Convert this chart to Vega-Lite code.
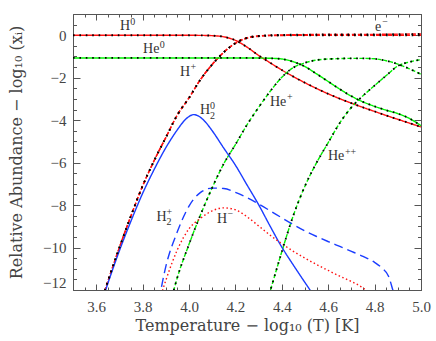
{
  "$schema": "https://vega.github.io/schema/vega-lite/v6.json",
  "width": 348,
  "height": 276,
  "autosize": {"type": "none"},
  "padding": {"left": 73, "top": 14, "right": 15, "bottom": 51},
  "background": "white",
  "config": {
    "view": {"stroke": "#555555", "strokeWidth": 1},
    "axis": {
      "grid": false,
      "domain": false,
      "tickColor": "#555555",
      "tickWidth": 1,
      "labelColor": "#444444",
      "titleColor": "#444444",
      "labelFont": "Liberation Serif",
      "labelFontSize": 15,
      "titleFont": "DejaVu Serif",
      "titleFontSize": 16,
      "titleFontWeight": "normal"
    }
  },
  "datasets": {
    "curves": [
      {"sp": "H0", "T": 3.50, "v": 0}, {"sp": "H0", "T": 3.60, "v": 0}, {"sp": "H0", "T": 3.70, "v": 0}, {"sp": "H0", "T": 3.80, "v": 0}, {"sp": "H0", "T": 3.90, "v": 0}, {"sp": "H0", "T": 4.00, "v": -0.002}, {"sp": "H0", "T": 4.05, "v": -0.006}, {"sp": "H0", "T": 4.10, "v": -0.02}, {"sp": "H0", "T": 4.15, "v": -0.075}, {"sp": "H0", "T": 4.20, "v": -0.24}, {"sp": "H0", "T": 4.25, "v": -0.56}, {"sp": "H0", "T": 4.30, "v": -0.95}, {"sp": "H0", "T": 4.35, "v": -1.30}, {"sp": "H0", "T": 4.40, "v": -1.64}, {"sp": "H0", "T": 4.45, "v": -1.95}, {"sp": "H0", "T": 4.50, "v": -2.24}, {"sp": "H0", "T": 4.55, "v": -2.51}, {"sp": "H0", "T": 4.60, "v": -2.76}, {"sp": "H0", "T": 4.65, "v": -2.99}, {"sp": "H0", "T": 4.70, "v": -3.20}, {"sp": "H0", "T": 4.75, "v": -3.40}, {"sp": "H0", "T": 4.80, "v": -3.59}, {"sp": "H0", "T": 4.85, "v": -3.78}, {"sp": "H0", "T": 4.90, "v": -3.96}, {"sp": "H0", "T": 4.95, "v": -4.14}, {"sp": "H0", "T": 5.00, "v": -4.32},

      {"sp": "H+", "T": 3.62, "v": -12.6}, {"sp": "H+", "T": 3.65, "v": -11.6}, {"sp": "H+", "T": 3.70, "v": -10.0}, {"sp": "H+", "T": 3.75, "v": -8.5}, {"sp": "H+", "T": 3.80, "v": -7.1}, {"sp": "H+", "T": 3.85, "v": -5.9}, {"sp": "H+", "T": 3.90, "v": -4.82}, {"sp": "H+", "T": 3.95, "v": -3.75}, {"sp": "H+", "T": 4.00, "v": -2.95}, {"sp": "H+", "T": 4.05, "v": -2.08}, {"sp": "H+", "T": 4.10, "v": -1.38}, {"sp": "H+", "T": 4.15, "v": -0.80}, {"sp": "H+", "T": 4.20, "v": -0.38}, {"sp": "H+", "T": 4.25, "v": -0.14}, {"sp": "H+", "T": 4.30, "v": -0.05}, {"sp": "H+", "T": 4.35, "v": -0.02}, {"sp": "H+", "T": 4.40, "v": -0.01}, {"sp": "H+", "T": 4.50, "v": -0.004}, {"sp": "H+", "T": 4.60, "v": -0.002}, {"sp": "H+", "T": 4.80, "v": -0.001}, {"sp": "H+", "T": 5.00, "v": 0},

      {"sp": "e-", "T": 3.62, "v": -12.6}, {"sp": "e-", "T": 3.65, "v": -11.6}, {"sp": "e-", "T": 3.70, "v": -10.0}, {"sp": "e-", "T": 3.75, "v": -8.5}, {"sp": "e-", "T": 3.80, "v": -7.1}, {"sp": "e-", "T": 3.85, "v": -5.9}, {"sp": "e-", "T": 3.90, "v": -4.82}, {"sp": "e-", "T": 3.95, "v": -3.75}, {"sp": "e-", "T": 4.00, "v": -2.95}, {"sp": "e-", "T": 4.05, "v": -2.08}, {"sp": "e-", "T": 4.10, "v": -1.38}, {"sp": "e-", "T": 4.15, "v": -0.80}, {"sp": "e-", "T": 4.20, "v": -0.37}, {"sp": "e-", "T": 4.25, "v": -0.12}, {"sp": "e-", "T": 4.30, "v": -0.03}, {"sp": "e-", "T": 4.35, "v": 0.0}, {"sp": "e-", "T": 4.40, "v": 0.015}, {"sp": "e-", "T": 4.45, "v": 0.025}, {"sp": "e-", "T": 4.50, "v": 0.03}, {"sp": "e-", "T": 4.60, "v": 0.035}, {"sp": "e-", "T": 4.70, "v": 0.036}, {"sp": "e-", "T": 4.80, "v": 0.04}, {"sp": "e-", "T": 4.90, "v": 0.05}, {"sp": "e-", "T": 5.00, "v": 0.06},

      {"sp": "He0", "T": 3.50, "v": -1.07}, {"sp": "He0", "T": 3.70, "v": -1.07}, {"sp": "He0", "T": 3.90, "v": -1.07}, {"sp": "He0", "T": 4.10, "v": -1.07}, {"sp": "He0", "T": 4.20, "v": -1.07}, {"sp": "He0", "T": 4.25, "v": -1.071}, {"sp": "He0", "T": 4.30, "v": -1.075}, {"sp": "He0", "T": 4.35, "v": -1.085}, {"sp": "He0", "T": 4.40, "v": -1.12}, {"sp": "He0", "T": 4.45, "v": -1.25}, {"sp": "He0", "T": 4.50, "v": -1.48}, {"sp": "He0", "T": 4.55, "v": -1.82}, {"sp": "He0", "T": 4.60, "v": -2.18}, {"sp": "He0", "T": 4.65, "v": -2.54}, {"sp": "He0", "T": 4.70, "v": -2.87}, {"sp": "He0", "T": 4.75, "v": -3.14}, {"sp": "He0", "T": 4.80, "v": -3.35}, {"sp": "He0", "T": 4.85, "v": -3.53}, {"sp": "He0", "T": 4.90, "v": -3.69}, {"sp": "He0", "T": 4.95, "v": -3.92}, {"sp": "He0", "T": 5.00, "v": -4.26},

      {"sp": "He+", "T": 3.92, "v": -12.6}, {"sp": "He+", "T": 3.95, "v": -11.4}, {"sp": "He+", "T": 4.00, "v": -9.85}, {"sp": "He+", "T": 4.05, "v": -8.45}, {"sp": "He+", "T": 4.10, "v": -7.18}, {"sp": "He+", "T": 4.15, "v": -6.05}, {"sp": "He+", "T": 4.20, "v": -5.15}, {"sp": "He+", "T": 4.25, "v": -4.22}, {"sp": "He+", "T": 4.30, "v": -3.40}, {"sp": "He+", "T": 4.35, "v": -2.64}, {"sp": "He+", "T": 4.40, "v": -1.98}, {"sp": "He+", "T": 4.45, "v": -1.52}, {"sp": "He+", "T": 4.50, "v": -1.30}, {"sp": "He+", "T": 4.55, "v": -1.17}, {"sp": "He+", "T": 4.60, "v": -1.12}, {"sp": "He+", "T": 4.65, "v": -1.10}, {"sp": "He+", "T": 4.70, "v": -1.09}, {"sp": "He+", "T": 4.75, "v": -1.09}, {"sp": "He+", "T": 4.80, "v": -1.11}, {"sp": "He+", "T": 4.85, "v": -1.20}, {"sp": "He+", "T": 4.90, "v": -1.36}, {"sp": "He+", "T": 4.95, "v": -1.58}, {"sp": "He+", "T": 5.00, "v": -1.84},

      {"sp": "He++", "T": 4.33, "v": -12.8}, {"sp": "He++", "T": 4.35, "v": -12.05}, {"sp": "He++", "T": 4.40, "v": -10.2}, {"sp": "He++", "T": 4.45, "v": -8.48}, {"sp": "He++", "T": 4.50, "v": -7.10}, {"sp": "He++", "T": 4.55, "v": -6.0}, {"sp": "He++", "T": 4.60, "v": -5.06}, {"sp": "He++", "T": 4.65, "v": -4.13}, {"sp": "He++", "T": 4.70, "v": -3.40}, {"sp": "He++", "T": 4.75, "v": -2.85}, {"sp": "He++", "T": 4.80, "v": -2.37}, {"sp": "He++", "T": 4.85, "v": -1.90}, {"sp": "He++", "T": 4.90, "v": -1.45}, {"sp": "He++", "T": 4.95, "v": -1.26}, {"sp": "He++", "T": 5.00, "v": -1.15},

      {"sp": "H2", "T": 3.62, "v": -12.7}, {"sp": "H2", "T": 3.65, "v": -11.7}, {"sp": "H2", "T": 3.70, "v": -10.15}, {"sp": "H2", "T": 3.75, "v": -8.75}, {"sp": "H2", "T": 3.80, "v": -7.45}, {"sp": "H2", "T": 3.85, "v": -6.32}, {"sp": "H2", "T": 3.90, "v": -5.3}, {"sp": "H2", "T": 3.95, "v": -4.45}, {"sp": "H2", "T": 3.98, "v": -4.02}, {"sp": "H2", "T": 4.00, "v": -3.83}, {"sp": "H2", "T": 4.02, "v": -3.74}, {"sp": "H2", "T": 4.04, "v": -3.80}, {"sp": "H2", "T": 4.07, "v": -4.08}, {"sp": "H2", "T": 4.10, "v": -4.50}, {"sp": "H2", "T": 4.15, "v": -5.32}, {"sp": "H2", "T": 4.20, "v": -6.12}, {"sp": "H2", "T": 4.25, "v": -7.05}, {"sp": "H2", "T": 4.30, "v": -7.98}, {"sp": "H2", "T": 4.35, "v": -9.0}, {"sp": "H2", "T": 4.40, "v": -9.98}, {"sp": "H2", "T": 4.45, "v": -10.83}, {"sp": "H2", "T": 4.50, "v": -11.65}, {"sp": "H2", "T": 4.55, "v": -12.45},

      {"sp": "H2+", "T": 3.87, "v": -12.5}, {"sp": "H2+", "T": 3.90, "v": -10.9}, {"sp": "H2+", "T": 3.95, "v": -9.25}, {"sp": "H2+", "T": 4.00, "v": -8.05}, {"sp": "H2+", "T": 4.05, "v": -7.40}, {"sp": "H2+", "T": 4.10, "v": -7.20}, {"sp": "H2+", "T": 4.15, "v": -7.22}, {"sp": "H2+", "T": 4.20, "v": -7.40}, {"sp": "H2+", "T": 4.25, "v": -7.65}, {"sp": "H2+", "T": 4.30, "v": -7.95}, {"sp": "H2+", "T": 4.35, "v": -8.27}, {"sp": "H2+", "T": 4.40, "v": -8.60}, {"sp": "H2+", "T": 4.45, "v": -8.92}, {"sp": "H2+", "T": 4.50, "v": -9.22}, {"sp": "H2+", "T": 4.55, "v": -9.48}, {"sp": "H2+", "T": 4.60, "v": -9.72}, {"sp": "H2+", "T": 4.65, "v": -9.95}, {"sp": "H2+", "T": 4.70, "v": -10.18}, {"sp": "H2+", "T": 4.75, "v": -10.42}, {"sp": "H2+", "T": 4.80, "v": -10.70}, {"sp": "H2+", "T": 4.83, "v": -10.95}, {"sp": "H2+", "T": 4.86, "v": -11.35}, {"sp": "H2+", "T": 4.88, "v": -12.05}, {"sp": "H2+", "T": 4.895, "v": -12.6},

      {"sp": "H-", "T": 3.875, "v": -12.4}, {"sp": "H-", "T": 3.90, "v": -11.55}, {"sp": "H-", "T": 3.95, "v": -10.1}, {"sp": "H-", "T": 4.00, "v": -9.12}, {"sp": "H-", "T": 4.05, "v": -8.62}, {"sp": "H-", "T": 4.10, "v": -8.27}, {"sp": "H-", "T": 4.15, "v": -8.13}, {"sp": "H-", "T": 4.20, "v": -8.22}, {"sp": "H-", "T": 4.25, "v": -8.55}, {"sp": "H-", "T": 4.30, "v": -8.98}, {"sp": "H-", "T": 4.35, "v": -9.42}, {"sp": "H-", "T": 4.40, "v": -9.82}, {"sp": "H-", "T": 4.45, "v": -10.18}, {"sp": "H-", "T": 4.50, "v": -10.50}, {"sp": "H-", "T": 4.55, "v": -10.80}, {"sp": "H-", "T": 4.60, "v": -11.08}, {"sp": "H-", "T": 4.65, "v": -11.35}, {"sp": "H-", "T": 4.70, "v": -11.60}, {"sp": "H-", "T": 4.75, "v": -11.90}, {"sp": "H-", "T": 4.78, "v": -12.15}
    ],
    "labels": [
      {"role": "base", "txt": "H", "T": 3.703, "v": 0.43},
      {"role": "sup", "txt": "0", "T": 3.747, "v": 0.64},
      {"role": "base", "txt": "He", "T": 3.802, "v": -0.66},
      {"role": "sup", "txt": "0", "T": 3.874, "v": -0.44},
      {"role": "base", "txt": "H", "T": 3.961, "v": -1.74},
      {"role": "sup", "txt": "+", "T": 4.006, "v": -1.50},
      {"role": "base", "txt": "H", "T": 4.047, "v": -3.53},
      {"role": "sup", "txt": "0", "T": 4.091, "v": -3.31},
      {"role": "sub", "txt": "2", "T": 4.091, "v": -3.79},
      {"role": "base", "txt": "He", "T": 4.349, "v": -3.16},
      {"role": "sup", "txt": "+", "T": 4.422, "v": -2.93},
      {"role": "base", "txt": "He", "T": 4.599, "v": -5.70},
      {"role": "sup", "txt": "++", "T": 4.672, "v": -5.50},
      {"role": "base", "txt": "H", "T": 3.860, "v": -8.55},
      {"role": "sup", "txt": "+", "T": 3.903, "v": -8.31},
      {"role": "sub", "txt": "2", "T": 3.903, "v": -8.81},
      {"role": "base", "txt": "H", "T": 4.121, "v": -8.67},
      {"role": "sup", "txt": "−", "T": 4.166, "v": -8.40},
      {"role": "base", "txt": "e", "T": 4.802, "v": 0.41},
      {"role": "sup", "txt": "−", "T": 4.833, "v": 0.64}
    ]
  },
  "resolve": {"axis": {"x": "independent", "y": "independent"}},
  "layer": [
    {
      "data": {"name": "curves"},
      "mark": {"type": "line", "interpolate": "monotone", "clip": true, "strokeWidth": 1.4},
      "encoding": {
        "x": {
          "field": "T", "type": "quantitative",
          "scale": {"domain": [3.5, 5.0], "nice": false, "zero": false},
          "axis": {
            "orient": "bottom",
            "values": [3.6, 3.8, 4.0, 4.2, 4.4, 4.6, 4.8, 5.0],
            "format": ".1f",
            "tickSize": -6,
            "labelPadding": 15,
            "labelFlush": false,
            "labelFont": "Liberation Serif",
            "labelFontSize": 15,
            "title": "Temperature − log₁₀ (T) [K]",
            "titlePadding": 3
          }
        },
        "y": {
          "field": "v", "type": "quantitative",
          "scale": {"domain": [-12, 1], "nice": false, "zero": false},
          "axis": {
            "orient": "left",
            "values": [0, -2, -4, -6, -8, -10, -12],
            "format": "d",
            "tickSize": -7,
            "labelPadding": 14,
            "labelFlush": true,
            "labelFont": "Liberation Serif",
            "labelFontSize": 15,
            "title": "Relative Abundance − log₁₀ (xᵢ)",
            "titlePadding": 18
          }
        },
        "color": {
          "field": "sp", "type": "nominal", "legend": null,
          "scale": {
            "domain": ["H0", "H+", "e-", "He0", "He+", "He++", "H2", "H2+", "H-"],
            "range": ["#ff1010", "#ff1010", "#ff1010", "#00f000", "#00f000", "#00f000", "#1a3cff", "#1a3cff", "#ff1010"]
          }
        },
        "strokeDash": {
          "field": "sp", "type": "nominal", "legend": null,
          "scale": {
            "domain": ["H0", "H+", "e-", "He0", "He+", "He++", "H2", "H2+", "H-"],
            "range": [[1, 0], [4, 2], [4, 2], [1, 0], [4, 2], [4, 2], [1, 0], [9, 5], [1.5, 2.5]]
          }
        }
      }
    },
    {
      "data": {"name": "curves"},
      "transform": [{"filter": {"field": "sp", "oneOf": ["H0", "H+", "e-", "He0", "He+", "He++"]}}],
      "mark": {"type": "line", "interpolate": "monotone", "clip": true, "color": "black", "strokeWidth": 1.8, "strokeDash": [1.6, 4.8]},
      "encoding": {
        "x": {
          "field": "T", "type": "quantitative",
          "scale": {"domain": [3.5, 5.0], "nice": false, "zero": false},
          "axis": {
            "orient": "bottom", "labels": false, "title": null, "tickSize": -3,
            "values": [3.5, 3.55, 3.6, 3.65, 3.7, 3.75, 3.8, 3.85, 3.9, 3.95, 4.0, 4.05, 4.1, 4.15, 4.2, 4.25, 4.3, 4.35, 4.4, 4.45, 4.5, 4.55, 4.6, 4.65, 4.7, 4.75, 4.8, 4.85, 4.9, 4.95, 5.0]
          }
        },
        "y": {
          "field": "v", "type": "quantitative",
          "scale": {"domain": [-12, 1], "nice": false, "zero": false},
          "axis": {
            "orient": "left", "labels": false, "title": null, "tickSize": -3.5,
            "values": [1, 0.5, 0, -0.5, -1, -1.5, -2, -2.5, -3, -3.5, -4, -4.5, -5, -5.5, -6, -6.5, -7, -7.5, -8, -8.5, -9, -9.5, -10, -10.5, -11, -11.5, -12]
          }
        },
        "detail": {"field": "sp", "type": "nominal"}
      }
    },
    {
      "data": {"name": "labels"},
      "transform": [{"filter": "datum.role === 'base'"}],
      "mark": {"type": "text", "align": "left", "baseline": "middle", "font": "Liberation Serif", "fontSize": 14, "color": "#333333"},
      "encoding": {
        "x": {
          "field": "T", "type": "quantitative",
          "scale": {"domain": [3.5, 5.0], "nice": false, "zero": false},
          "axis": {"orient": "top", "labels": false, "title": null, "tickSize": -6, "values": [3.6, 3.8, 4.0, 4.2, 4.4, 4.6, 4.8, 5.0]}
        },
        "y": {
          "field": "v", "type": "quantitative",
          "scale": {"domain": [-12, 1], "nice": false, "zero": false},
          "axis": {"orient": "right", "labels": false, "title": null, "tickSize": -7, "values": [0, -2, -4, -6, -8, -10, -12]}
        },
        "text": {"field": "txt", "type": "nominal"}
      }
    },
    {
      "data": {"name": "labels"},
      "transform": [{"filter": "datum.role === 'sup'"}],
      "mark": {"type": "text", "align": "left", "baseline": "middle", "font": "Liberation Serif", "fontSize": 10, "color": "#333333"},
      "encoding": {
        "x": {
          "field": "T", "type": "quantitative",
          "scale": {"domain": [3.5, 5.0], "nice": false, "zero": false},
          "axis": {
            "orient": "top", "labels": false, "title": null, "tickSize": -3,
            "values": [3.5, 3.55, 3.6, 3.65, 3.7, 3.75, 3.8, 3.85, 3.9, 3.95, 4.0, 4.05, 4.1, 4.15, 4.2, 4.25, 4.3, 4.35, 4.4, 4.45, 4.5, 4.55, 4.6, 4.65, 4.7, 4.75, 4.8, 4.85, 4.9, 4.95, 5.0]
          }
        },
        "y": {
          "field": "v", "type": "quantitative",
          "scale": {"domain": [-12, 1], "nice": false, "zero": false},
          "axis": {
            "orient": "right", "labels": false, "title": null, "tickSize": -3.5,
            "values": [1, 0.5, 0, -0.5, -1, -1.5, -2, -2.5, -3, -3.5, -4, -4.5, -5, -5.5, -6, -6.5, -7, -7.5, -8, -8.5, -9, -9.5, -10, -10.5, -11, -11.5, -12]
          }
        },
        "text": {"field": "txt", "type": "nominal"}
      }
    },
    {
      "data": {"name": "labels"},
      "transform": [{"filter": "datum.role === 'sub'"}],
      "mark": {"type": "text", "align": "left", "baseline": "middle", "font": "Liberation Serif", "fontSize": 10, "color": "#333333"},
      "encoding": {
        "x": {"field": "T", "type": "quantitative", "scale": {"domain": [3.5, 5.0], "nice": false, "zero": false}, "axis": null},
        "y": {"field": "v", "type": "quantitative", "scale": {"domain": [-12, 1], "nice": false, "zero": false}, "axis": null},
        "text": {"field": "txt", "type": "nominal"}
      }
    }
  ]
}
